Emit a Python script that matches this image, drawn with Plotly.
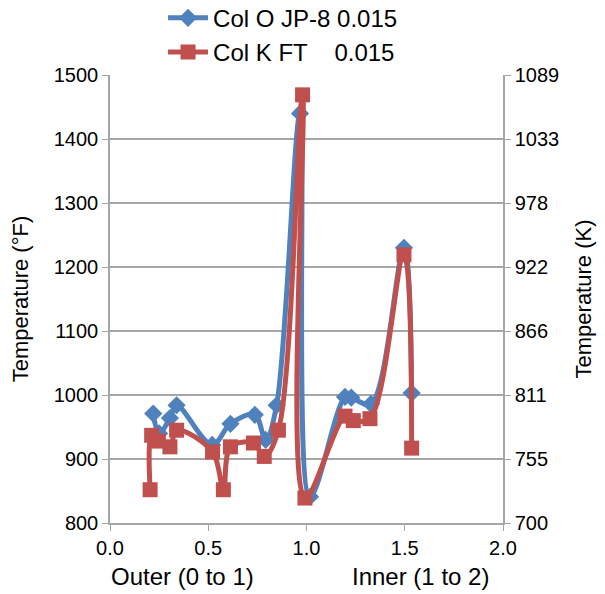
import plotly.graph_objects as go

# Data (position: Outer 0-1, Inner 1-2; temperature in °F)
blue_name = "Col O JP-8 0.015"
blue_x = [0.22, 0.25, 0.305, 0.339, 0.52, 0.613, 0.737, 0.792, 0.848, 0.967, 1.018, 1.196, 1.228, 1.328, 1.496, 1.535]
blue_y = [971, 940, 964, 984, 922, 955, 969, 930, 984, 1440, 841, 997, 996, 986, 1230, 1003]

red_name = "Col K FT\u00a0\u00a0\u00a0\u00a00.015"
red_x = [0.204, 0.212, 0.246, 0.305, 0.339, 0.522, 0.577, 0.613, 0.73, 0.785, 0.857, 0.98, 0.992, 1.196, 1.238, 1.323, 1.496, 1.535]
red_y = [852, 937, 928, 919, 945, 911, 852, 919, 925, 904, 945, 1469, 839, 967, 960, 963, 1219, 917]

f_ticks = [800, 900, 1000, 1100, 1200, 1300, 1400, 1500]
x_ticks = [0.0, 0.5, 1.0, 1.5, 2.0]


def f_to_k(f):
    return (f - 32) * 5 / 9 + 273.15


k_tickvals = [f_to_k(f) for f in f_ticks]
k_ticktext = [str(int(round(k))) for k in k_tickvals]

BLUE = "#4F81BD"
RED = "#C0504D"
GRID = "#A6A6A6"
FONT = "Liberation Sans, Arial, sans-serif"

fig = go.Figure()
fig.add_trace(go.Scatter(
    x=blue_x, y=blue_y, name=blue_name, mode="lines+markers", legendgroup="a",
    line=dict(color=BLUE, width=5, shape="spline", smoothing=1),
    marker=dict(symbol="diamond", size=14, color=BLUE),
))
fig.add_trace(go.Scatter(
    x=red_x, y=red_y, name=red_name, mode="lines+markers", legendgroup="b",
    line=dict(color=RED, width=5, shape="spline", smoothing=1),
    marker=dict(symbol="square", size=15, color=RED),
))
# invisible trace to activate the secondary axis
fig.add_trace(go.Scatter(
    x=[x_ticks[0]], y=[k_tickvals[0]], yaxis="y2", mode="markers",
    marker=dict(opacity=0), showlegend=False, hoverinfo="skip",
))

fig.update_layout(
    width=605, height=594,
    margin=dict(l=110, r=102, t=75, b=71, autoexpand=False),
    paper_bgcolor="white", plot_bgcolor="white",
    font=dict(family=FONT, size=20, color="#000000"),
    showlegend=True,
    legend=dict(
        x=0.135, y=1.177, xanchor="left", yanchor="top",
        orientation="v", font=dict(size=24), itemwidth=40,
        tracegroupgap=0, bgcolor="rgba(0,0,0,0)",
    ),
    xaxis=dict(
        range=[0, 2], tickvals=x_ticks, tickformat=".1f",
        showgrid=False, zeroline=False,
        showline=True, linecolor=GRID, linewidth=1.5,
        ticks="outside", ticklen=6, tickcolor=GRID,
        tickfont=dict(size=20),
    ),
    yaxis=dict(
        range=[800, 1500], tickvals=f_ticks,
        showgrid=True, gridcolor=GRID, gridwidth=1.5, zeroline=False,
        showline=True, linecolor=GRID, linewidth=1.5,
        ticks="outside", ticklen=6, tickcolor=GRID,
        tickfont=dict(size=20),
        title=dict(text="Temperature (°F)", font=dict(size=22), standoff=19),
    ),
    yaxis2=dict(
        overlaying="y", side="right",
        range=[f_to_k(800), f_to_k(1500)], tickvals=k_tickvals, ticktext=k_ticktext,
        showgrid=False, zeroline=False,
        showline=True, linecolor=GRID, linewidth=1.5,
        ticks="outside", ticklen=6, tickcolor=GRID,
        tickfont=dict(size=20),
        title=dict(text="Temperature (K)", font=dict(size=22), standoff=17),
    ),
    annotations=[
        dict(text="Outer (0 to 1)", x=0.184, y=-0.1205, xref="paper", yref="paper",
             xanchor="center", yanchor="middle", showarrow=False, font=dict(size=24)),
        dict(text="Inner (1 to 2)", x=0.79, y=-0.1205, xref="paper", yref="paper",
             xanchor="center", yanchor="middle", showarrow=False, font=dict(size=24)),
    ],
)

fig.write_html("out.html")
